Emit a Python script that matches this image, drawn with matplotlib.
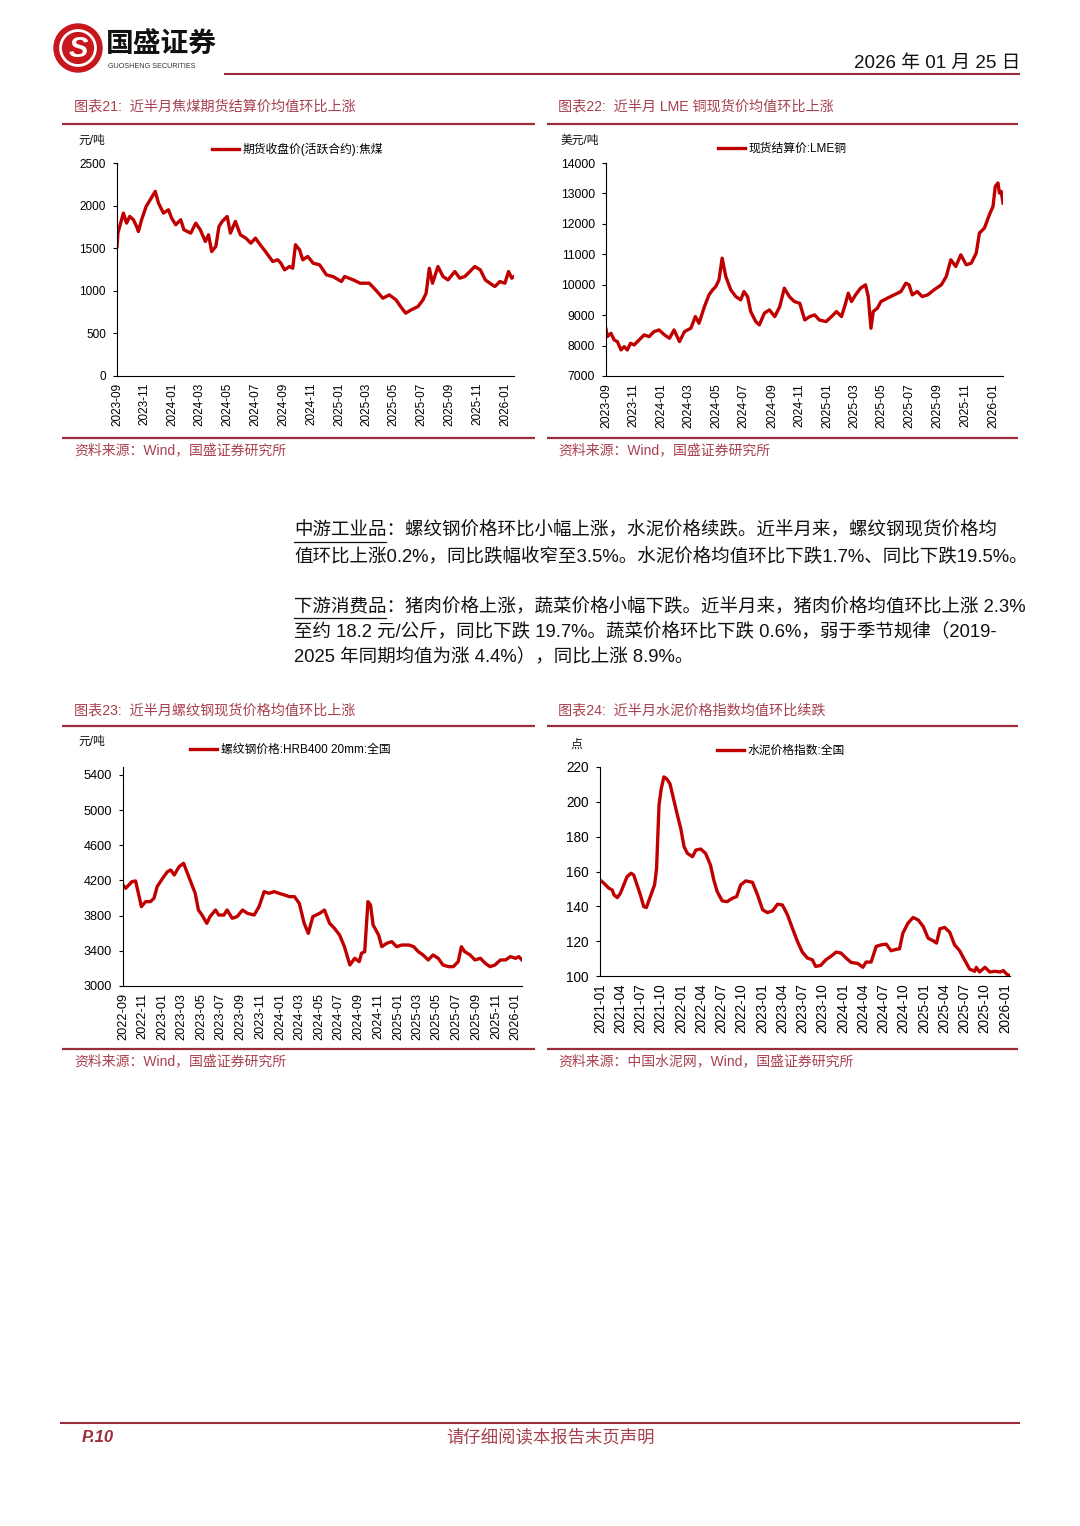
import matplotlib
matplotlib.use('Agg')
import matplotlib.pyplot as plt
import matplotlib.dates as mdates
from matplotlib.patches import Circle
import pandas as pd

plt.rcParams['font.family'] = ['Liberation Sans', 'Noto Sans CJK SC']

W, H = 1080, 1526
LINE_RED = '#c00000'
DARK = '#9b2d3a'
TITLE_C = '#a8404f'

# ---- chart 21: coking coal futures (yuan/t)
coal_dates = ['2023-09-01', '2023-09-03', '2023-09-15', '2023-09-22', '2023-09-29', '2023-10-07', '2023-10-14',
              '2023-10-18', '2023-10-25', '2023-11-04', '2023-11-13', '2023-11-24', '2023-12-01', '2023-12-12',
              '2023-12-23', '2023-12-30', '2024-01-08', '2024-01-19', '2024-01-26', '2024-02-10', '2024-02-21',
              '2024-03-02', '2024-03-13', '2024-03-20', '2024-03-27', '2024-04-05', '2024-04-12', '2024-04-19',
              '2024-04-30', '2024-05-07', '2024-05-18', '2024-05-29', '2024-06-10', '2024-06-21', '2024-07-01',
              '2024-07-09', '2024-07-23', '2024-08-08', '2024-08-19', '2024-08-26', '2024-09-03', '2024-09-14',
              '2024-09-21', '2024-09-27', '2024-10-06', '2024-10-13', '2024-10-24', '2024-11-05', '2024-11-19',
              '2024-12-04', '2024-12-18', '2025-01-06', '2025-01-13', '2025-02-01', '2025-02-16', '2025-03-08',
              '2025-03-22', '2025-04-07', '2025-04-21', '2025-05-06', '2025-05-16', '2025-05-27', '2025-06-08',
              '2025-06-23', '2025-07-04', '2025-07-11', '2025-07-18', '2025-07-25', '2025-08-06', '2025-08-17',
              '2025-08-28', '2025-09-12', '2025-09-23', '2025-10-04', '2025-10-15', '2025-10-26', '2025-11-07',
              '2025-11-18', '2025-11-28', '2025-12-09', '2025-12-20', '2025-12-31', '2026-01-08', '2026-01-15',
              '2026-01-20']
coal_vals = [1520, 1677, 1912, 1794, 1873, 1834, 1755, 1696, 1834, 1990, 2069, 2167, 2030, 1912, 1951, 1853,
             1775, 1834, 1716, 1677, 1794, 1716, 1579, 1657, 1461, 1520, 1755, 1814, 1873, 1677, 1814, 1657,
             1618, 1559, 1618, 1559, 1461, 1344, 1364, 1324, 1246, 1285, 1265, 1540, 1481, 1364, 1403, 1324,
             1305, 1187, 1168, 1109, 1168, 1128, 1089, 1089, 1011, 913, 952, 893, 815, 737, 776, 815, 893,
             972, 1265, 1089, 1285, 1168, 1128, 1226, 1148, 1168, 1226, 1285, 1246, 1128, 1089, 1050, 1109,
             1089, 1226, 1148, 1168]

# ---- chart 22: LME copper spot (USD/t)
copper_dates = ['2023-09-01', '2023-09-04', '2023-09-12', '2023-09-19', '2023-09-26', '2023-10-04', '2023-10-11',
                '2023-10-18', '2023-10-25', '2023-11-02', '2023-11-13', '2023-11-24', '2023-12-05', '2023-12-16',
                '2023-12-27', '2024-01-08', '2024-01-19', '2024-01-29', '2024-02-10', '2024-02-21', '2024-03-06',
                '2024-03-16', '2024-03-24', '2024-04-05', '2024-04-15', '2024-04-23', '2024-04-30', '2024-05-07',
                '2024-05-14', '2024-05-22', '2024-06-02', '2024-06-13', '2024-06-24', '2024-07-01', '2024-07-09',
                '2024-07-16', '2024-07-27', '2024-08-04', '2024-08-15', '2024-08-26', '2024-09-07', '2024-09-18',
                '2024-09-28', '2024-10-09', '2024-10-20', '2024-11-01', '2024-11-12', '2024-11-23', '2024-12-04',
                '2024-12-14', '2024-12-29', '2025-01-10', '2025-01-21', '2025-02-01', '2025-02-09', '2025-02-16',
                '2025-02-23', '2025-03-04', '2025-03-15', '2025-03-26', '2025-04-01', '2025-04-07', '2025-04-12',
                '2025-04-21', '2025-04-29', '2025-05-13', '2025-05-28', '2025-06-12', '2025-06-23', '2025-06-30',
                '2025-07-07', '2025-07-18', '2025-07-29', '2025-08-10', '2025-08-24', '2025-09-09', '2025-09-20',
                '2025-09-30', '2025-10-11', '2025-10-22', '2025-11-03', '2025-11-14', '2025-11-25', '2025-12-02',
                '2025-12-13', '2025-12-24', '2026-01-01', '2026-01-06', '2026-01-12', '2026-01-15', '2026-01-19',
                '2026-01-23']
copper_vals = [8536, 8295, 8404, 8185, 8130, 7856, 7965, 7856, 8075, 8020, 8185, 8350, 8295, 8459, 8514, 8350,
               8240, 8514, 8130, 8459, 8569, 8953, 8734, 9282, 9666, 9831, 9940, 10160, 10873, 10270, 9831,
               9611, 9502, 9776, 9611, 9118, 8788, 8679, 9063, 9172, 8953, 9282, 9886, 9611, 9447, 9392, 8843,
               8953, 9008, 8843, 8788, 8953, 9118, 8953, 9337, 9721, 9447, 9666, 9886, 9995, 9611, 8569, 9118,
               9227, 9447, 9557, 9666, 9776, 10050, 9995, 9666, 9776, 9611, 9666, 9831, 9995, 10270, 10818,
               10599, 10983, 10654, 10709, 11038, 11696, 11861, 12299, 12574, 13232, 13342, 13013, 13067, 12684]

# ---- chart 23: rebar HRB400 20mm national (yuan/t)
rebar_dates = ['2022-09-01', '2022-09-09', '2022-09-19', '2022-09-29', '2022-10-10', '2022-10-20', '2022-10-28',
               '2022-11-10', '2022-11-25', '2022-12-06', '2022-12-16', '2023-01-02', '2023-01-17', '2023-01-27',
               '2023-02-07', '2023-02-22', '2023-03-08', '2023-03-18', '2023-04-03', '2023-04-13', '2023-04-23',
               '2023-05-04', '2023-05-19', '2023-05-29', '2023-06-15', '2023-06-25', '2023-07-11', '2023-07-21',
               '2023-08-06', '2023-08-21', '2023-09-07', '2023-09-22', '2023-10-13', '2023-10-28', '2023-11-13',
               '2023-11-28', '2023-12-14', '2023-12-29', '2024-01-15', '2024-01-30', '2024-02-15', '2024-03-01',
               '2024-03-16', '2024-03-29', '2024-04-12', '2024-05-03', '2024-05-18', '2024-06-03', '2024-06-18',
               '2024-07-04', '2024-07-19', '2024-08-05', '2024-08-20', '2024-09-03', '2024-09-10', '2024-09-20',
               '2024-09-30', '2024-10-08', '2024-10-16', '2024-11-02', '2024-11-12', '2024-11-27', '2024-12-13',
               '2024-12-28', '2025-01-13', '2025-02-04', '2025-02-19', '2025-03-05', '2025-03-20', '2025-04-05',
               '2025-04-20', '2025-05-06', '2025-05-21', '2025-06-07', '2025-06-22', '2025-07-07', '2025-07-17',
               '2025-07-27', '2025-08-13', '2025-08-28', '2025-09-14', '2025-09-29', '2025-10-14', '2025-10-29',
               '2025-11-15', '2025-12-01', '2025-12-16', '2026-01-01', '2026-01-11', '2026-01-21']
rebar_vals = [4149, 4111, 4149, 4187, 4194, 4035, 3902, 3959, 3959, 3997, 4130, 4225, 4300, 4319, 4262, 4357,
              4395, 4300, 4149, 4054, 3864, 3807, 3713, 3789, 3864, 3807, 3807, 3864, 3770, 3789, 3864, 3826,
              3807, 3902, 4073, 4054, 4073, 4054, 4035, 4016, 4016, 3940, 3713, 3599, 3789, 3826, 3864, 3713,
              3656, 3580, 3447, 3239, 3315, 3277, 3372, 3391, 3959, 3921, 3694, 3580, 3447, 3485, 3504, 3447,
              3466, 3466, 3447, 3391, 3353, 3296, 3353, 3315, 3239, 3220, 3220, 3277, 3447, 3391, 3353, 3296,
              3315, 3258, 3220, 3239, 3296, 3296, 3334, 3315, 3334, 3296]

# ---- chart 24: cement price index, national (points)
cement_dates = ['2021-01-01', '2021-01-19', '2021-02-10', '2021-02-25', '2021-03-05', '2021-03-20', '2021-04-03',
                '2021-04-18', '2021-05-03', '2021-05-21', '2021-06-02', '2021-06-17', '2021-07-02', '2021-07-17',
                '2021-07-29', '2021-08-13', '2021-08-24', '2021-09-04', '2021-09-13', '2021-09-24', '2021-10-04',
                '2021-10-16', '2021-10-28', '2021-11-12', '2021-11-30', '2021-12-16', '2021-12-31', '2022-01-15',
                '2022-01-30', '2022-02-22', '2022-03-09', '2022-03-31', '2022-04-22', '2022-05-14', '2022-05-29',
                '2022-06-13', '2022-07-06', '2022-07-28', '2022-08-20', '2022-09-09', '2022-09-27', '2022-10-20',
                '2022-11-19', '2022-12-12', '2023-01-04', '2023-01-26', '2023-02-18', '2023-03-12', '2023-04-03',
                '2023-04-26', '2023-05-18', '2023-06-10', '2023-07-02', '2023-07-25', '2023-08-16', '2023-08-31',
                '2023-09-23', '2023-10-16', '2023-11-08', '2023-12-01', '2023-12-23', '2024-01-15', '2024-02-07',
                '2024-03-08', '2024-03-31', '2024-04-14', '2024-05-07', '2024-05-30', '2024-06-22', '2024-07-14',
                '2024-08-05', '2024-08-28', '2024-09-12', '2024-09-27', '2024-10-20', '2024-11-12', '2024-12-05',
                '2024-12-28', '2025-01-19', '2025-02-11', '2025-02-26', '2025-03-13', '2025-04-03', '2025-04-26',
                '2025-05-18', '2025-06-10', '2025-07-02', '2025-07-25', '2025-08-17', '2025-08-24', '2025-09-08',
                '2025-10-02', '2025-10-24', '2025-11-16', '2025-12-09', '2025-12-24', '2026-01-08', '2026-01-23']
cement_vals = [155.1, 153.2, 150.4, 149.4, 146.6, 145.0, 147.5, 152.3, 157.0, 159.0, 158.0, 152.3, 146.6,
               139.9, 139.3, 144.6, 148.5, 152.3, 161.8, 198.1, 207.6, 214.3, 213.3, 210.5, 200.9, 192.3,
               184.7, 174.2, 170.4, 168.5, 172.3, 172.9, 170.4, 163.7, 155.1, 148.5, 143.1, 142.7, 144.6,
               145.6, 152.3, 154.6, 153.8, 146.6, 138.0, 136.4, 137.4, 141.2, 140.8, 135.1, 127.5, 119.8,
               113.7, 110.3, 109.3, 105.5, 106.1, 109.3, 111.3, 113.7, 113.2, 110.3, 107.8, 107.2, 105.0,
               108.0, 108.0, 117.0, 117.9, 118.3, 114.5, 115.3, 115.6, 124.6, 130.3, 133.6, 132.2, 128.4,
               121.7, 120.2, 118.9, 127.1, 127.9, 125.2, 117.9, 114.5, 109.3, 104.0, 102.7, 105.0, 102.3,
               105.0, 102.3, 102.7, 102.3, 103.1, 101.1, 100.0]

para1 = ['中游工业品：螺纹钢价格环比小幅上涨，水泥价格续跌。近半月来，螺纹钢现货价格均',
         '值环比上涨0.2%，同比跌幅收窄至3.5%。水泥价格均值环比下跌1.7%、同比下跌19.5%。']
para2 = ['下游消费品：猪肉价格上涨，蔬菜价格小幅下跌。近半月来，猪肉价格均值环比上涨 2.3%',
         '至约 18.2 元/公斤，同比下跌 19.7%。蔬菜价格环比下跌 0.6%，弱于季节规律（2019-',
         '2025 年同期均值为涨 4.4%），同比上涨 8.9%。']

fig = plt.figure(figsize=(W / 100, H / 100), dpi=100)

# page overlay in pixel coordinates
deco = fig.add_axes([0, 0, 1, 1])
deco.set_xlim(0, W)
deco.set_ylim(H, 0)
deco.axis('off')


def hline(x0, x1, y, color=DARK, lw=1.6):
    deco.plot([x0, x1], [y, y], color=color, lw=lw, solid_capstyle='butt')


# header
deco.add_patch(Circle((78, 48), 24, color='#c8161d'))
deco.add_patch(Circle((78, 48), 17.5, fill=False, ec='white', lw=2))
deco.text(78, 49, 'S', color='white', fontsize=21, fontweight='bold', style='italic', ha='center', va='center')
deco.text(106, 46, '国盛证券', fontsize=20, fontweight='bold', color='#111111', va='center')
deco.text(108, 66, 'GUOSHENG SECURITIES', fontsize=5.2, color='#333333', va='center')
deco.text(1020, 63, '2026 年 01 月 25 日', fontsize=13.5, color='#111111', ha='right', va='center')
hline(224, 1020, 74, lw=1.5)

# footer
hline(60, 1020, 1423, lw=1.5)
deco.text(82, 1437, 'P.10', fontsize=12, fontweight='bold', style='italic', color=DARK, va='center')
deco.text(550, 1437, '请仔细阅读本报告末页声明', fontsize=12.5, color=TITLE_C, ha='center', va='center')

# body text
for i, s in enumerate(para1):
    deco.text(294, 530 + 26 * i, s, fontsize=13.3, color='#111111', va='center')
for i, s in enumerate(para2):
    deco.text(294, 607 + 25 * i, s, fontsize=13.3, color='#111111', va='center')
deco.plot([294, 386], [542, 542], color='#111111', lw=0.9)
deco.plot([294, 386], [618, 618], color='#111111', lw=0.9)


def panel(rect, dates, vals, ylim, yticks, months, fsize, legend_txt, leg_xy,
          unit, unit_xy, title, title_xy, source, frame):
    x0, y0, x1, y1 = rect
    ax = fig.add_axes([x0 / W, 1 - y1 / H, (x1 - x0) / W, (y1 - y0) / H])
    d = pd.to_datetime(dates)
    ax.plot(d, vals, color=LINE_RED, lw=2.4, label=legend_txt)
    ax.set_xlim(d[0], d[-1])
    ax.set_ylim(*ylim)
    ax.set_yticks(yticks)
    ax.xaxis.set_major_locator(mdates.MonthLocator(bymonth=months))
    ax.xaxis.set_major_formatter(mdates.DateFormatter('%Y-%m'))
    ax.tick_params(axis='x', length=0, pad=5, labelsize=fsize, labelrotation=90)
    ax.tick_params(axis='y', length=3, width=0.8, pad=5, labelsize=fsize)
    for lab in ax.get_xticklabels():
        lab.set_ha('center')
    for s in ['top', 'right']:
        ax.spines[s].set_visible(False)
    for s in ['left', 'bottom']:
        ax.spines[s].set_linewidth(0.8)
    ax.legend(loc='center left', bbox_to_anchor=(leg_xy[0] / W, 1 - leg_xy[1] / H),
              bbox_transform=fig.transFigure, frameon=False, fontsize=8.5,
              handlelength=2.3, handletextpad=0.3, borderpad=0, borderaxespad=0)
    deco.text(unit_xy[0], unit_xy[1], unit, fontsize=8.5, color='#111111', va='center')
    deco.text(title_xy[0], title_xy[1], title, fontsize=10.2, color=TITLE_C, va='center')
    fx0, fx1, fy0, fy1 = frame
    hline(fx0, fx1, fy0)
    hline(fx0, fx1, fy1)
    deco.text(title_xy[0], fy1 + 12, source, fontsize=10, color=TITLE_C, va='center')
    return ax


panel((117, 163, 514, 376), coal_dates, coal_vals, (0, 2500), range(0, 2501, 500), [1, 3, 5, 7, 9, 11], 8.5,
      '期货收盘价(活跃合约):焦煤', (212, 149), '元/吨', (78, 141),
      '图表21:  近半月焦煤期货结算价均值环比上涨', (74, 107), '资料来源：Wind，国盛证券研究所',
      (62, 535, 124, 438))

panel((606, 163, 1003, 376), copper_dates, copper_vals, (7000, 14000), range(7000, 14001, 1000),
      [1, 3, 5, 7, 9, 11], 8.8,
      '现货结算价:LME铜', (718, 149), '美元/吨', (561, 141),
      '图表22:  近半月 LME 铜现货价均值环比上涨', (558, 107), '资料来源：Wind，国盛证券研究所',
      (547, 1018, 124, 438))

panel((123, 767, 522, 986), rebar_dates, rebar_vals, (3000, 5490), range(3000, 5401, 400),
      [1, 3, 5, 7, 9, 11], 9.2,
      '螺纹钢价格:HRB400 20mm:全国', (190, 750), '元/吨', (78, 742),
      '图表23:  近半月螺纹钢现货价格均值环比上涨', (74, 710), '资料来源：Wind，国盛证券研究所',
      (62, 535, 726, 1049))

panel((600, 767, 1010, 976), cement_dates, cement_vals, (100, 220), range(100, 221, 20),
      [1, 4, 7, 10], 9.8,
      '水泥价格指数:全国', (717, 751), '点', (570, 745),
      '图表24:  近半月水泥价格指数均值环比续跌', (558, 710), '资料来源：中国水泥网，Wind，国盛证券研究所',
      (547, 1018, 726, 1049))

fig.savefig('out.png', dpi=100)
